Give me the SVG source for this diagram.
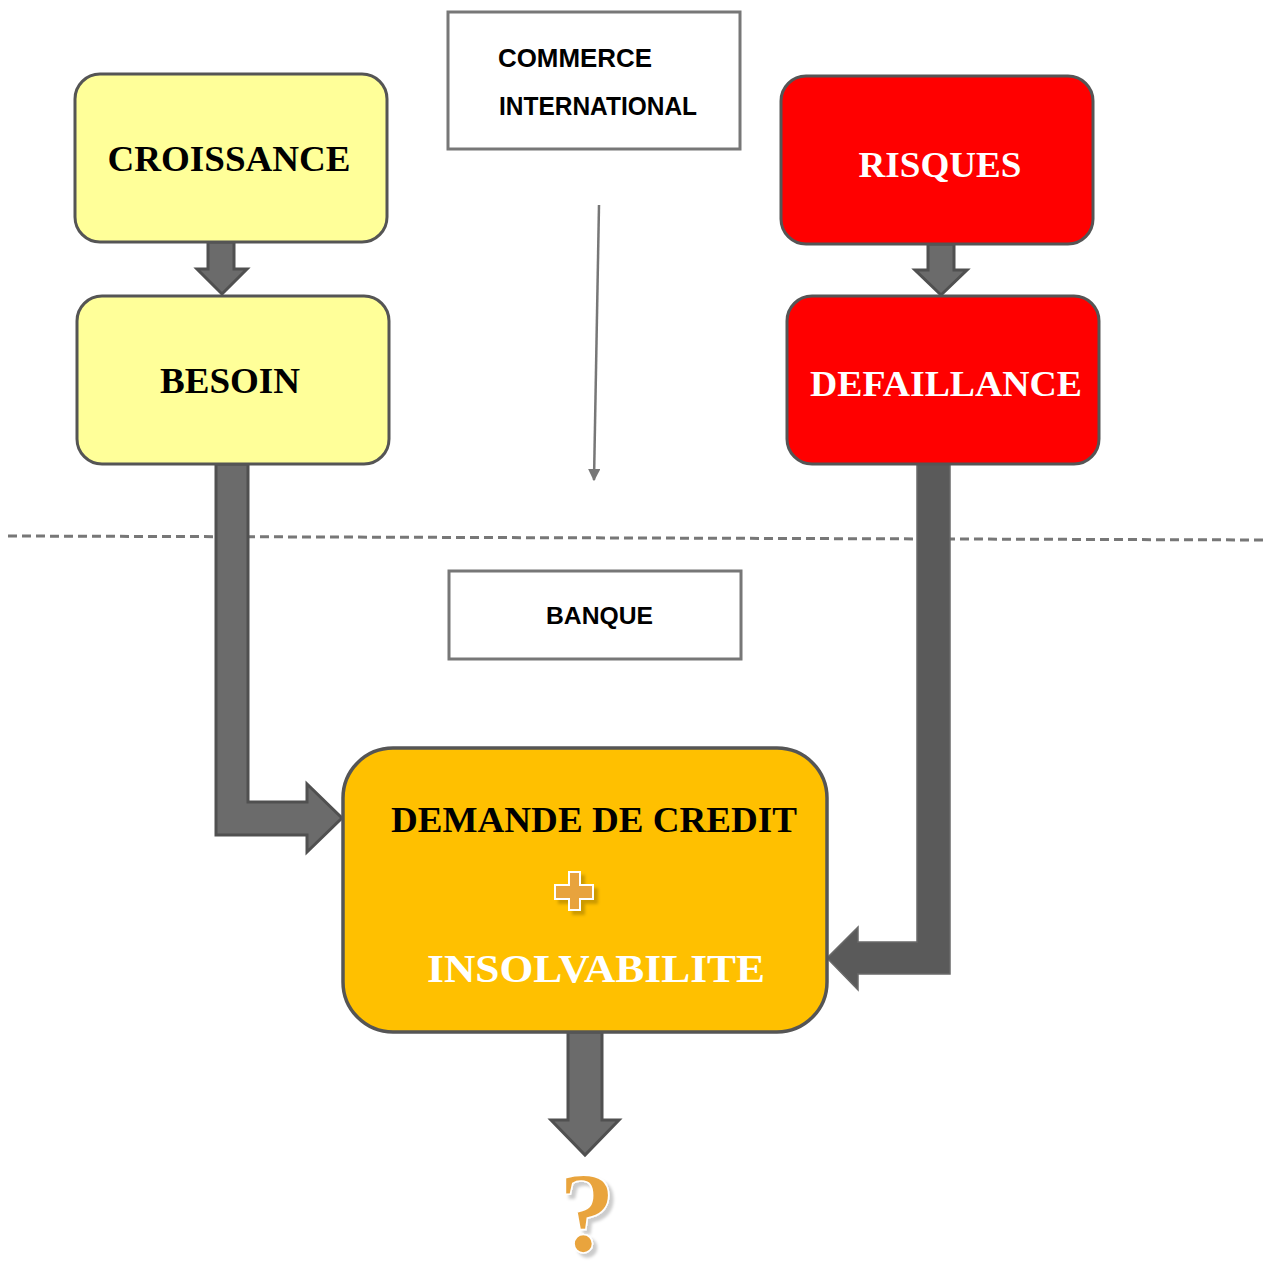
<svg xmlns="http://www.w3.org/2000/svg" width="1269" height="1276" viewBox="0 0 1269 1276">
<defs>
<style>
.yel{fill:#FFFF99;stroke:#555;stroke-width:3}
.red{fill:#FF0000;stroke:#555;stroke-width:3}
.org{fill:#FFC000;stroke:#555;stroke-width:3.5}
.wbox{fill:#fff;stroke:#777;stroke-width:3}
.big{font-family:"Liberation Serif","Times New Roman",serif;font-weight:bold;text-anchor:middle}
.sans{font-family:"Liberation Sans",Arial,sans-serif;font-weight:bold;fill:#000}
.fat{fill:#6b6b6b;stroke:#505050;stroke-width:3;stroke-linejoin:miter}
</style>
<marker id="tri" viewBox="0 0 10 10" refX="9" refY="5" markerWidth="5" markerHeight="5" orient="auto">
<path d="M0,0 L10,5 L0,10 Z" fill="#777"/>
</marker>
<filter id="sh" x="-20%" y="-20%" width="140%" height="140%">
<feGaussianBlur in="SourceAlpha" stdDeviation="1.5"/>
<feOffset dx="4" dy="4" result="b"/>
<feFlood flood-color="#000" flood-opacity="0.2"/>
<feComposite in2="b" operator="in"/>
<feMerge><feMergeNode/><feMergeNode in="SourceGraphic"/></feMerge>
</filter>
</defs>
<rect width="1269" height="1276" fill="#fff"/>

<line x1="8" y1="536" x2="1266" y2="540" stroke="#777" stroke-width="3" stroke-dasharray="9 5"/>

<g id="connectors">
<path class="fat" d="M208,242 L234,242 L234,269 L247,269 L222,294 L197,269 L208,269 Z"/>
<path class="fat" d="M928,244 L954,244 L954,270 L967,270 L941,295 L915,270 L928,270 Z"/>
<path class="fat" d="M216,464 L248,464 L248,802 L307,802 L307,784 L342,818 L307,852 L307,835 L216,835 Z"/>
<path d="M917,464 L950,464 L950,974 L858,974 L858,990 L827,958 L858,927 L858,942 L917,942 Z" fill="#5a5a5a" stroke="#6a6a6a" stroke-width="1.5"/>
<path class="fat" d="M568,1032 L602,1032 L602,1120 L619,1120 L585,1155 L551,1120 L568,1120 Z"/>
<line x1="599" y1="205" x2="594" y2="480" stroke="#777" stroke-width="2.5" marker-end="url(#tri)"/>
</g>

<g id="commerce">
<rect class="wbox" x="448" y="12" width="292" height="137"/>
<text class="sans" x="498" y="67" font-size="25" textLength="154" lengthAdjust="spacingAndGlyphs">COMMERCE</text>
<text class="sans" x="499" y="115" font-size="25" textLength="198" lengthAdjust="spacingAndGlyphs">INTERNATIONAL</text>
</g>

<g id="banque">
<rect class="wbox" x="449" y="571" width="292" height="88"/>
<text class="sans" x="546" y="624" font-size="24" textLength="107" lengthAdjust="spacingAndGlyphs">BANQUE</text>
</g>

<g id="croissance">
<rect class="yel" x="75" y="74" width="312" height="168" rx="25"/>
<text class="big" x="229" y="171" font-size="36" fill="#000" textLength="243" lengthAdjust="spacingAndGlyphs">CROISSANCE</text>
</g>

<g id="besoin">
<rect class="yel" x="77" y="296" width="312" height="168" rx="25"/>
<text class="big" x="230" y="393" font-size="36" fill="#000" textLength="140" lengthAdjust="spacingAndGlyphs">BESOIN</text>
</g>

<g id="risques">
<rect class="red" x="781" y="76" width="312" height="168" rx="25"/>
<text class="big" x="940" y="177" font-size="36" fill="#fff" textLength="163" lengthAdjust="spacingAndGlyphs">RISQUES</text>
</g>

<g id="defaillance">
<rect class="red" x="787" y="296" width="312" height="168" rx="25"/>
<text class="big" x="946" y="396" font-size="36" fill="#fff" textLength="272" lengthAdjust="spacingAndGlyphs">DEFAILLANCE</text>
</g>

<g id="demande">
<rect class="org" x="343" y="748" width="484" height="284" rx="50"/>
<text class="big" x="594" y="832" font-size="36" fill="#000" textLength="406" lengthAdjust="spacingAndGlyphs">DEMANDE DE CREDIT</text>
<path d="M569,872 L580,872 L580,885 L593,885 L593,899 L580,899 L580,910 L569,910 L569,899 L555,899 L555,885 L569,885 Z" fill="#E8A33D" stroke="#fff" stroke-width="2" filter="url(#sh)"/>
<text class="big" x="596" y="982" font-size="40" fill="#fff" textLength="338" lengthAdjust="spacingAndGlyphs">INSOLVABILITE</text>
</g>

<g id="question">
<text class="big" x="587" y="1251" font-size="114" fill="#E9A43C" stroke="#fff" stroke-width="1.5" filter="url(#sh)">?</text>
</g>
</svg>
